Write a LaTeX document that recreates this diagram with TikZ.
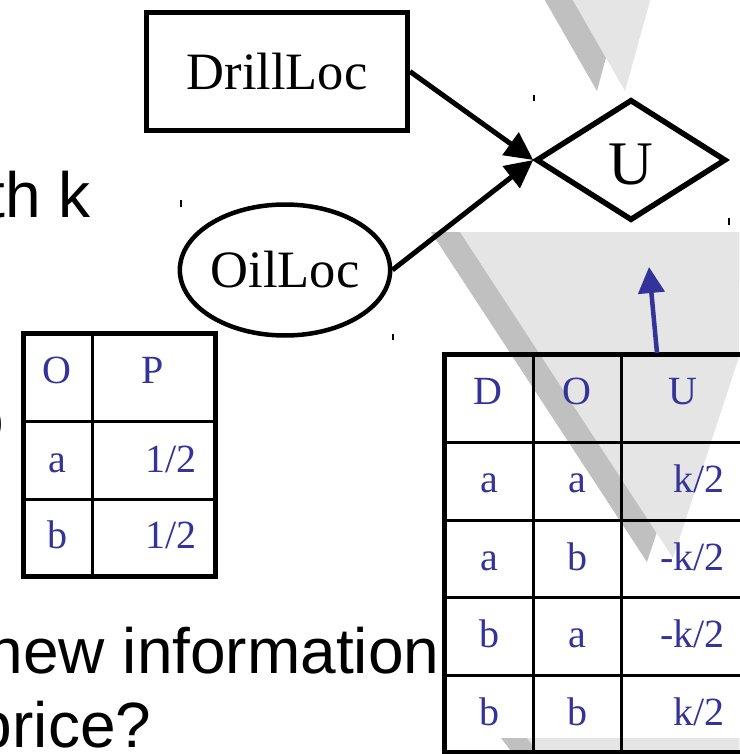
\documentclass[tikz,border=0pt]{standalone}
\usepackage{fontspec}
\setmainfont{Liberation Serif}
\newfontfamily\hv{Liberation Sans}
\usetikzlibrary{shapes.geometric,arrows.meta}
\definecolor{tblue}{RGB}{51,51,153}
\definecolor{gdark}{RGB}{192,192,192}
\definecolor{glight}{RGB}{229,229,229}
\begin{document}
\begin{tikzpicture}[x=1pt,y=-1pt,
  bigtxt/.style={font=\fontsize{52.5}{60}\selectfont},
  slidetxt/.style={font=\hv\fontsize{64}{72}\selectfont, inner sep=0pt},
  celltxt/.style={font=\fontsize{40}{48}\selectfont, text=tblue, inner sep=0pt},
  outerline/.style={line width=5pt},
  innerline/.style={line width=3pt},
  conn/.style={line width=5pt, -{Triangle[length=28pt,width=27pt]}},
  tick/.style={line width=1.5pt}]
\useasboundingbox (0,0) rectangle (739,754);
\fill[white] (0,0) rectangle (739,754);
% background triangles
\begin{scope}
\clip (0,0) rectangle (739,754);
\fill[gdark] (539,-10)--(624,-10)--(597,91)--cycle;
\fill[glight] (567,-10)--(653,-10)--(625,91)--cycle;
\fill[gdark] (431,232)--(756,232)--(647,562)--cycle;
\fill[glight] (460,232)--(780,232)--(673,558)--cycle;
\fill[gdark] (501,738)--(900,738)--(700,1000)--cycle;
\fill[glight] (527,738)--(926,738)--(726,1000)--cycle;
\end{scope}
% slide text fragments
\node[slidetxt, anchor=base east] (t1) at (91,217) {th k};
\node[slidetxt, anchor=base east] (t2) at (4.3,441) {o};
\node[slidetxt, anchor=base west] (t3) at (-12.5,673) {new information};
\node[slidetxt, anchor=base east] (t4) at (151.5,747) {price?};
% diagram nodes
\node[draw, outerline, minimum width=261pt, minimum height=118pt, inner sep=0pt, bigtxt] (drill) at (277,71.5) {DrillLoc};
\node[ellipse, draw, line width=4.5pt, minimum width=207pt, minimum height=131pt, inner sep=0pt, bigtxt] (oil) at (285,270) {OilLoc};
\node[diamond, draw, line width=5.5pt, minimum width=190pt, minimum height=121pt, inner sep=0pt, font=\fontsize{62}{70}\selectfont] (u) at (631,160) {\rule{0pt}{49pt}U};
\draw[conn] (drill.east) -- (u.west);
\draw[conn] (oil.east) -- (u.west);
% tick marks
\draw[tick] (534,95)--(534,101);
\draw[tick] (181,200)--(181,207);
\draw[tick] (393,334)--(393,340);
\draw[tick] (729,218)--(729,225);
% table 1
\draw[innerline] (92.5,334)--(92.5,576);
\draw[innerline] (23.5,421)--(215.5,421);
\draw[innerline] (23.5,499)--(215.5,499);
\draw[outerline] (23.5,333.5) rectangle (215.5,576);
\node[celltxt, anchor=base] (o1) at (57,383) {O};
\node[celltxt, anchor=base] (p1) at (153,383) {P};
\node[celltxt, anchor=base] (a1) at (57,472) {a};
\node[celltxt, anchor=base east] (v1) at (197,472) {1/2};
\node[celltxt, anchor=base] (b1) at (57,548) {b};
\node[celltxt, anchor=base east] (v2) at (197,548) {1/2};
% table 2
\draw[innerline] (533.5,354)--(533.5,754);
\draw[innerline] (621.5,354)--(621.5,754);
\foreach \yy in {442.5,520,597.5,675.5} \draw[innerline] (444,\yy)--(745,\yy);
\draw[outerline] (745,354.5)--(444,354.5)--(444,752)--(745,752);
\coordinate (t2top) at (657,353);
\coordinate (utip) at (649,267);
\draw[tblue, line width=4.5pt, -{Triangle[length=26pt,width=26pt]}] (t2top) -- (utip);
\node[celltxt, anchor=base] (hd) at (488,404) {D};
\node[celltxt, anchor=base] (ho) at (577,404) {O};
\node[celltxt, anchor=base] (hu) at (683,404) {U};
\node[celltxt, anchor=base] (r1d) at (489,492) {a};
\node[celltxt, anchor=base] (r1o) at (577,492) {a};
\node[celltxt, anchor=base east] (r1u) at (725,492) {k/2};
\node[celltxt, anchor=base] (r2d) at (489,570) {a};
\node[celltxt, anchor=base] (r2o) at (577,570) {b};
\node[celltxt, anchor=base east] (r2u) at (725,570) {-k/2};
\node[celltxt, anchor=base] (r3d) at (489,647) {b};
\node[celltxt, anchor=base] (r3o) at (577,647) {a};
\node[celltxt, anchor=base east] (r3u) at (725,647) {-k/2};
\node[celltxt, anchor=base] (r4d) at (489,725) {b};
\node[celltxt, anchor=base] (r4o) at (577,725) {b};
\node[celltxt, anchor=base east] (r4u) at (725,725) {k/2};
\end{tikzpicture}
\end{document}
